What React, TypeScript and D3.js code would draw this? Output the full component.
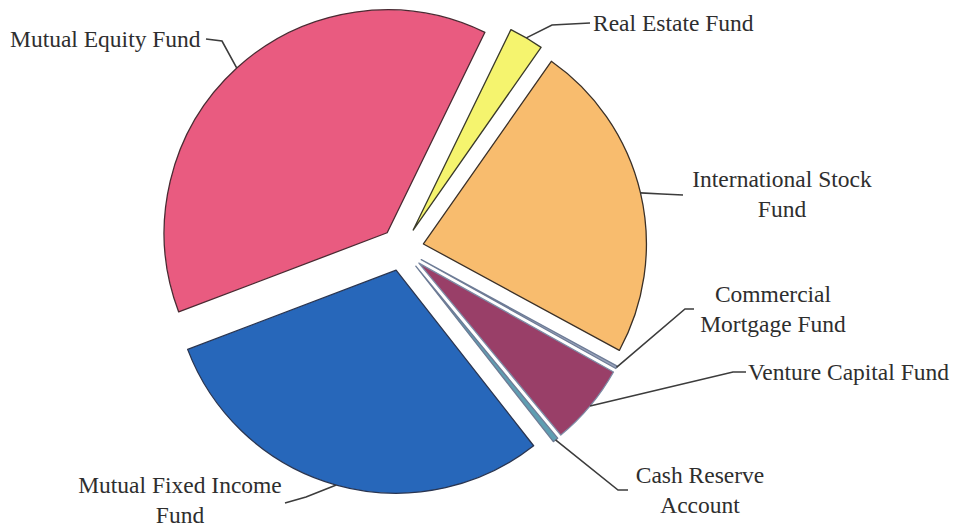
import React from "react";
import * as d3 from "d3";

const categories = [
  "Real Estate Fund",
  "International Stock Fund",
  "Commercial Mortgage Fund",
  "Venture Capital Fund",
  "Cash Reserve Account",
  "Mutual Fixed Income Fund",
  "Mutual Equity Fund",
];
const values = [2.5, 23.2, 0.2, 5.9, 0.4, 29.8, 38.0];
const labelLines = [
  ["Real Estate Fund"],
  ["International Stock", "Fund"],
  ["Commercial", "Mortgage Fund"],
  ["Venture Capital Fund"],
  ["Cash Reserve", "Account"],
  ["Mutual Fixed Income", "Fund"],
  ["Mutual Equity Fund"],
];

const fills = ["#f5f46e", "#f8bc6e", "#9aa4bc", "#993f68", "#5e9eb2", "#2767ba", "#e95b80"];
const strokes = ["#3a3a2a", "#3a3028", "#6e7c96", "#7d8aa4", "#6e7c96", "#2a3550", "#4a2a32"];

// label layout: text anchor position, first baseline, anchor, leader elbow and end
const labelLayout = [
  { x: 593, y: 31, anchor: "start", elbow: [552, 25], end: [590, 23] },
  { x: 782, y: 187, anchor: "middle", elbow: [662, 194], end: [683, 195] },
  { x: 773, y: 302, anchor: "middle", elbow: [685, 309], end: [694, 309] },
  { x: 748, y: 380, anchor: "start", elbow: [733, 372], end: [746, 372] },
  { x: 700, y: 483, anchor: "middle", elbow: [618, 490], end: [628, 490] },
  { x: 180, y: 493, anchor: "middle", elbow: [306, 497], end: [285, 503] },
  { x: 10, y: 47, anchor: "start", elbow: [222, 41], end: [206, 39] },
];

const W = 959;
const H = 527;
const cx = 402;
const cy = 249;
const R = 223;
const explode = 22;
const startDeg = 26;
const fontSize = 23.5;
const lineGap = 30;

export default function App() {
  const pie = d3
    .pie<number>()
    .sort(null)
    .value((d) => d)
    .startAngle((startDeg * Math.PI) / 180)
    .endAngle(((startDeg + 360) * Math.PI) / 180);
  const arcs = pie(values);
  const arc = d3.arc<d3.PieArcDatum<number>>().innerRadius(0).outerRadius(R);

  return (
    <svg
      width={W}
      height={H}
      style={{ position: "absolute", left: 0, top: 0, background: "#fff" }}
      fontFamily="'Liberation Serif', 'Times New Roman', serif"
    >
      <rect width={W} height={H} fill="#fff" />
      <g transform={`translate(${cx},${cy})`}>
        {arcs.map((a, i) => {
          const mid = (a.startAngle + a.endAngle) / 2;
          const dx = Math.sin(mid) * explode;
          const dy = -Math.cos(mid) * explode;
          return (
            <path
              key={categories[i]}
              d={arc(a) || ""}
              transform={`translate(${dx},${dy})`}
              fill={fills[i]}
              stroke={strokes[i]}
              strokeWidth={1.3}
              strokeLinejoin="round"
            />
          );
        })}
      </g>
      {arcs.map((a, i) => {
        const mid = (a.startAngle + a.endAngle) / 2;
        const sx = cx + Math.sin(mid) * (explode + R);
        const sy = cy - Math.cos(mid) * (explode + R);
        const L = labelLayout[i];
        return (
          <path
            key={"l" + i}
            d={`M${sx},${sy}L${L.elbow[0]},${L.elbow[1]}L${L.end[0]},${L.end[1]}`}
            fill="none"
            stroke="#3c3c3c"
            strokeWidth={1.6}
          />
        );
      })}
      {labelLines.map((lines, i) => {
        const L = labelLayout[i];
        return (
          <text
            key={"t" + i}
            x={L.x}
            y={L.y}
            textAnchor={L.anchor}
            fontSize={fontSize}
            fill="#2e2e2e"
          >
            {lines.map((ln, j) => (
              <tspan key={j} x={L.x} dy={j === 0 ? 0 : lineGap}>
                {ln}
              </tspan>
            ))}
          </text>
        );
      })}
    </svg>
  );
}
